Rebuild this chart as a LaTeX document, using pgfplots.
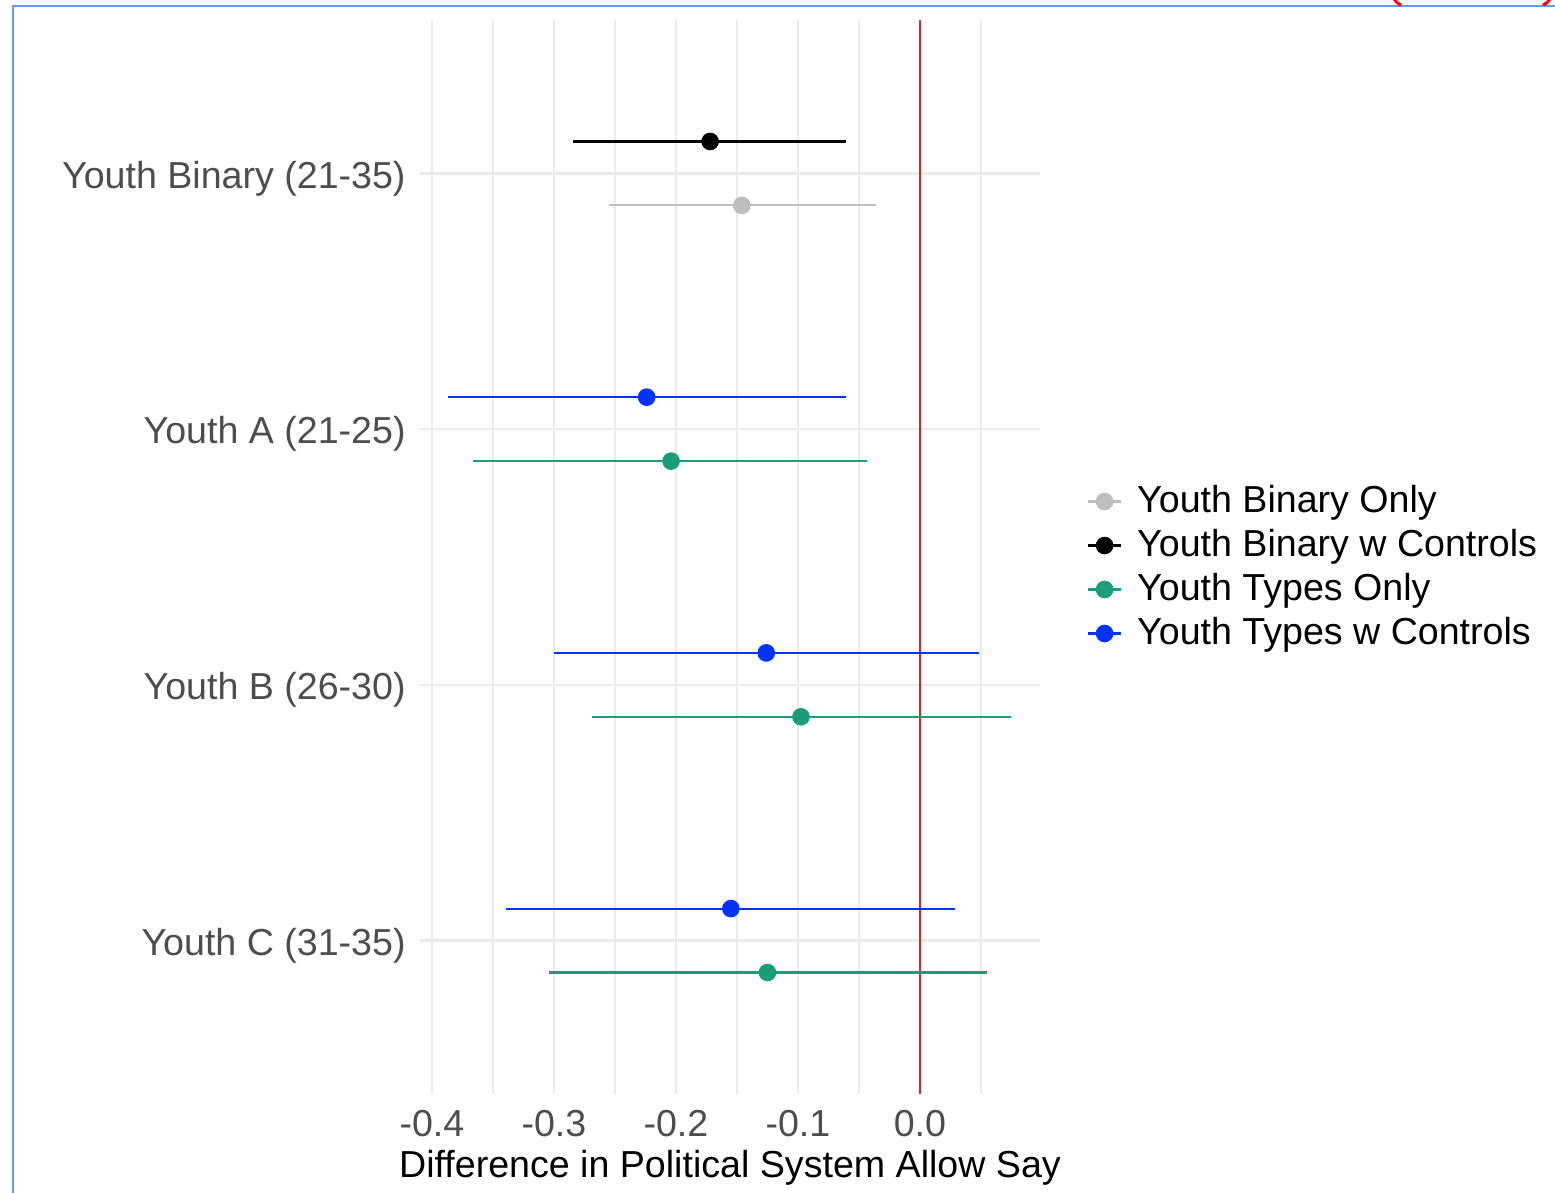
\documentclass[border=0pt]{standalone}
\usepackage{fontspec}
\setmainfont{Liberation Sans}
\usepackage{pgfplots}
\pgfplotsset{compat=1.18}
\usepackage{pgfplotstable}
\definecolor{cgrey}{RGB}{190,190,190}
\definecolor{cgreen}{RGB}{27,158,119}
\definecolor{cblue}{RGB}{0,51,255}
\definecolor{cred}{RGB}{214,39,40}
\definecolor{cgrid}{RGB}{235,235,235}
\definecolor{ctick}{RGB}{77,77,77}
\definecolor{cframe}{RGB}{100,155,225}

\pgfplotstableread{
y est lo hi
3.875 -0.146 -0.255 -0.036
}\binonly
\pgfplotstableread{
y est lo hi
4.125 -0.172 -0.284 -0.061
}\binctrl
\pgfplotstableread{
y est lo hi
2.875 -0.204 -0.366 -0.043
1.875 -0.0975 -0.269 0.075
0.875 -0.125 -0.304 0.055
}\typonly
\pgfplotstableread{
y est lo hi
3.125 -0.224 -0.387 -0.061
2.125 -0.126 -0.300 0.048
1.125 -0.155 -0.339 0.029
}\typctrl

\newcommand{\fs}{\fontsize{18.8}{22}\selectfont}

\begin{document}
\begin{tikzpicture}
\useasboundingbox (0,0) rectangle (777.5pt,-596.5pt);
\draw[cframe, line width=1pt] (6.5pt,-600pt) -- (6.5pt,-2.8pt) -- (780pt,-2.8pt);
\draw[red, line width=1.5pt] (697pt,0.5pt) .. controls (698pt,-1pt) .. (700.5pt,-2.6pt);
\draw[red, line width=1.5pt] (775pt,0.5pt) .. controls (774pt,-1pt) .. (771.5pt,-2.6pt);
\begin{axis}[
  at={(210pt,-547pt)}, anchor=south west, scale only axis,
  width=310pt, height=537pt,
  xmin=-0.4098, xmax=0.0984, ymin=0.4, ymax=4.6,
  axis line style={draw=none},
  major tick length=0pt, minor tick length=0pt,
  xtick={-0.4,-0.3,-0.2,-0.1,0},
  xticklabels={-0.4,-0.3,-0.2,-0.1,0.0},
  minor xtick={-0.35,-0.25,-0.15,-0.05,0.05},
  ytick={1,2,3,4},
  yticklabels={Youth C (31-35),Youth B (26-30),Youth A (21-25),Youth Binary (21-35)},
  xmajorgrids, xminorgrids, ymajorgrids,
  major grid style={cgrid, line width=1.25pt},
  minor grid style={cgrid, line width=1.0pt},
  xticklabel style={font=\fs, text=ctick, anchor=north, inner sep=0pt, yshift=-8pt},
  yticklabel style={font=\fs, text=ctick, anchor=east, inner sep=0pt, xshift=-7pt, yshift=-2.5pt},
  xlabel={Difference in Political System Allow Say},
  xlabel style={at={(axis description cs:0.5,0)}, anchor=north, inner sep=0pt, yshift=-28pt, font=\fs, text=black},
  legend style={at={(axis description cs:1.0758,0.4902)}, anchor=west, draw=none, fill=none,
    font=\fs, inner sep=0pt, outer sep=0pt, row sep=0pt, column sep=7.5pt,
    nodes={inner sep=0pt, text height=16.25pt, text depth=5.75pt}},
  legend cell align=left,
  legend image code/.code={
    \draw[#1, line width=1.1pt] (0pt,0pt) -- (16.5pt,0pt);
    \draw[#1] plot coordinates {(8.25pt,0pt)};
  },
  clip=false,
]
\addplot[cred, line width=1.1pt, forget plot] coordinates {(0,0.4) (0,4.6)};

\addplot[only marks, mark=*, mark size=4.2pt, color=cgrey,
  error bars/.cd, x dir=both, x explicit, error mark=none,
  error bar style={line width=1.1pt, cgrey}]
  table[x=est, y=y, x error plus expr=\thisrow{hi}-\thisrow{est}, x error minus expr=\thisrow{est}-\thisrow{lo}] \binonly;
\addlegendentry{Youth Binary Only}

\addplot[only marks, mark=*, mark size=4.2pt, color=black,
  error bars/.cd, x dir=both, x explicit, error mark=none,
  error bar style={line width=1.1pt, black}]
  table[x=est, y=y, x error plus expr=\thisrow{hi}-\thisrow{est}, x error minus expr=\thisrow{est}-\thisrow{lo}] \binctrl;
\addlegendentry{Youth Binary w Controls}

\addplot[only marks, mark=*, mark size=4.2pt, color=cgreen,
  error bars/.cd, x dir=both, x explicit, error mark=none,
  error bar style={line width=1.1pt, cgreen}]
  table[x=est, y=y, x error plus expr=\thisrow{hi}-\thisrow{est}, x error minus expr=\thisrow{est}-\thisrow{lo}] \typonly;
\addlegendentry{Youth Types Only}

\addplot[only marks, mark=*, mark size=4.2pt, color=cblue,
  error bars/.cd, x dir=both, x explicit, error mark=none,
  error bar style={line width=1.1pt, cblue}]
  table[x=est, y=y, x error plus expr=\thisrow{hi}-\thisrow{est}, x error minus expr=\thisrow{est}-\thisrow{lo}] \typctrl;
\addlegendentry{Youth Types w Controls}
\end{axis}
\end{tikzpicture}
\end{document}
